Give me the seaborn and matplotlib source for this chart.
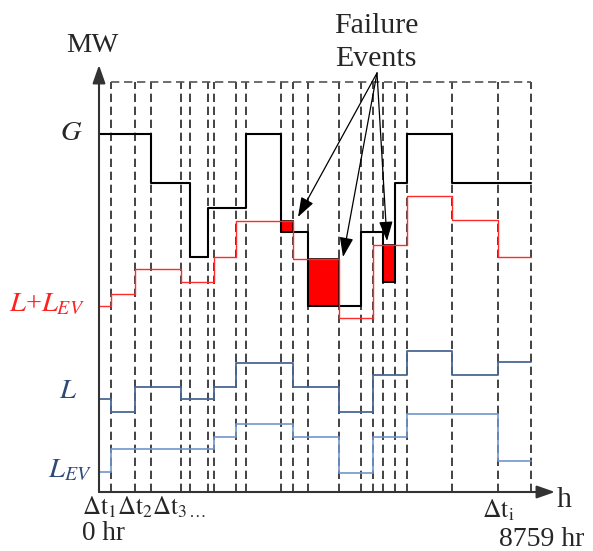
import numpy as np
import pandas as pd
import matplotlib
matplotlib.use("Agg")
import matplotlib.pyplot as plt
import seaborn as sns

sns.set_theme(style="white")
plt.rcParams["font.family"] = ["Liberation Serif", "DejaVu Serif"]
plt.rcParams["mathtext.fontset"] = "stix"

# Interval boundaries along the time axis (schematic units)
breaks = [0, 12, 36, 52, 82, 91, 109, 115, 137, 147, 182, 194, 209,
          240, 262, 274, 284, 296, 308, 353, 399, 432]

# Level of each series in every interval (schematic MW units)
gen = [358, 358, 358, 309, 309, 235, 284, 284, 284, 358, 260,
       260, 186, 186, 260, 260, 210, 309, 358, 309, 309]
load_total = [186, 198, 223, 223, 210, 210, 210, 235, 271, 271, 271,
              233, 233, 174, 174, 247, 247, 247, 296, 272, 235]
load = [93, 80, 105, 105, 93, 93, 93, 105, 129, 129, 129,
        105, 105, 80, 80, 117, 117, 117, 141, 117, 130]
load_ev = [20, 43, 43, 43, 43, 43, 43, 55, 68, 68, 68,
           55, 55, 19, 19, 55, 55, 55, 78, 78, 31]

top_level = 410

fig = plt.figure(figsize=(5.93, 5.51), dpi=100)
ax = fig.add_axes([0, 0, 1, 1])
ax.set_xlim(-99, 494)
ax.set_ylim(-59, 492)
ax.axis("off")


def steps(values):
    return pd.DataFrame({"t": breaks, "v": list(values) + [values[-1]]})


# Interval grid
ax.vlines(breaks[1:], 0, top_level, colors="#222222", linewidth=1.2,
          linestyles=(0, (5.0, 2.8)), zorder=1)
ax.hlines(top_level, breaks[1], breaks[-1], colors="#555555", linewidth=1.2,
          linestyles=(0, (5.0, 2.8)), zorder=1)

# Failure events: intervals where total load exceeds generation
g = np.array(gen)
lt = np.array(load_total)
left = np.array(breaks[:-1])
width = np.diff(breaks)
fail = lt > g
ax.bar(left[fail], (lt - g)[fail], bottom=g[fail], width=width[fail],
       align="edge", color="#ff0000", edgecolor="black", linewidth=1.2,
       zorder=3)

series = [
    (gen, "black", 1.5),
    (load_total, "#ff2a2a", 1.0),
    (load, "#4a6794", 1.3),
    (load_ev, "#7096cc", 1.2),
]
for vals, color, lw in series:
    sns.lineplot(data=steps(vals), x="t", y="v", ax=ax, color=color,
                 linewidth=lw, drawstyle="steps-post", estimator=None,
                 sort=False, zorder=4)
ax.set_xlabel("")
ax.set_ylabel("")
ax.axis("off")

# Axes with arrows
axis_color = "#333333"
for tip in [(0, 427), (456, 0)]:
    ax.annotate("", xy=tip, xytext=(0, 0),
                arrowprops=dict(arrowstyle="-|>,head_length=1.0,head_width=0.35",
                                mutation_scale=11, color=axis_color, lw=1.5,
                                shrinkA=0, shrinkB=0), zorder=5)

fs = 20.5
ax.text(-7, 446, "MW", fontsize=fs, ha="center", va="center")
ax.text(458, -15, "h", fontsize=fs + 1, ha="left", va="baseline")

# Series labels
ax.text(-16, 359, "$G$", fontsize=fs, ha="right", va="center")
ax.text(-14, 181, "$L$+$L_{EV}$", fontsize=fs, ha="right", va="baseline",
        color="#ff2020")
ax.text(-22, 94, "$L$", fontsize=fs, ha="right", va="baseline", color="#2e4a78")
ax.text(-7, 15, "$L_{EV}$", fontsize=fs, ha="right", va="baseline",
        color="#2e4a78")

# Time labels
ax.text(-17, -23, r"$\Delta\mathrm{t}_1\Delta\mathrm{t}_2\Delta\mathrm{t}_3$$_{\ldots}$",
        fontsize=18, ha="left", va="baseline")
ax.text(-17, -48, "0 hr", fontsize=19.5, ha="left", va="baseline")
ax.text(383, -25, r"$\Delta\mathrm{t}_\mathrm{i}$", fontsize=18.5,
        ha="left", va="baseline")
ax.text(400, -54, "8759 hr", fontsize=20, ha="left", va="baseline")

# Failure event callout
ax.text(277, 459, "Failure", fontsize=21.5, ha="center", va="baseline")
ax.text(277, 426, "Events", fontsize=21.5, ha="center", va="baseline")
origin = (278, 419)
tips = [(199, 275), (244, 235), (288, 251)]
for tip in tips:
    ax.annotate("", xy=tip, xytext=origin,
                arrowprops=dict(arrowstyle="-|>,head_length=1.0,head_width=0.35",
                                mutation_scale=12, color="black", lw=0.9,
                                shrinkA=0, shrinkB=0), zorder=6)

fig.savefig("out.png", dpi=100)
